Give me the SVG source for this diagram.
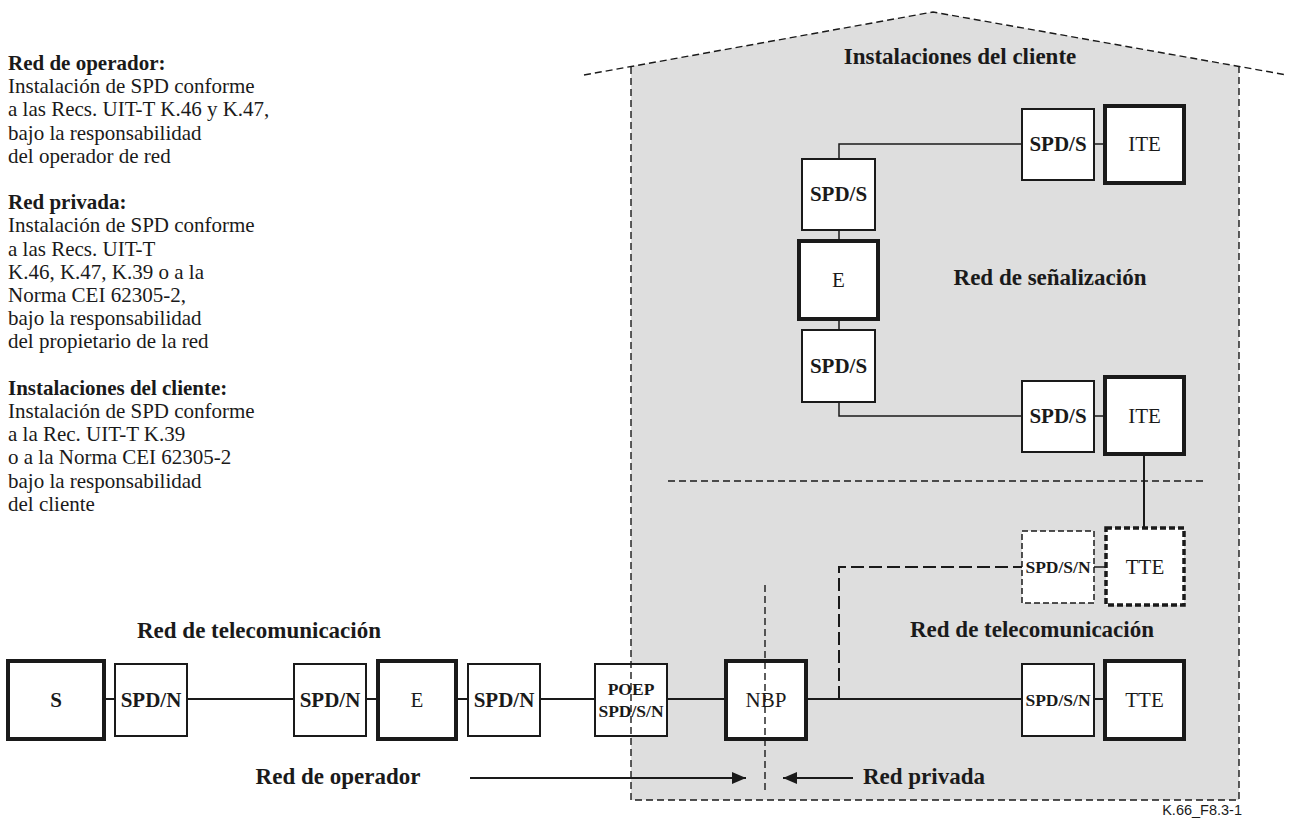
<svg xmlns="http://www.w3.org/2000/svg" width="1289" height="825" viewBox="0 0 1289 825">
  <style>
    text { font-family: "Liberation Serif", "Times New Roman", serif; fill: #1a1a1a; }
    .note { font-size: 21px; }
    .noteb { font-size: 21px; font-weight: bold; }
    .title { font-size: 23px; font-weight: bold; text-anchor: middle; }
    .lbl { font-size: 21px; text-anchor: middle; }
    .lblb { font-size: 21px; font-weight: bold; text-anchor: middle; }
    .lbls { font-size: 17.5px; font-weight: bold; text-anchor: middle; }
    .box { fill: #fff; stroke: #1a1a1a; stroke-width: 2; }
    .thick { fill: #fff; stroke: #1a1a1a; stroke-width: 4; }
    .dbox { fill: #fff; stroke: #1a1a1a; stroke-width: 1.5; stroke-dasharray: 6 3; }
    .dthick { fill: #fff; stroke: #1a1a1a; stroke-width: 3.5; stroke-dasharray: 6 3; }
    .wire { fill: none; stroke: #1a1a1a; stroke-width: 2; }
    .wthin { fill: none; stroke: #1a1a1a; stroke-width: 1.5; }
    .wdash { fill: none; stroke: #1a1a1a; stroke-width: 2; stroke-dasharray: 13 5; }
    .outline { fill: none; stroke: #1a1a1a; stroke-width: 1.4; stroke-dasharray: 7 4; }
  </style>
  <defs>
    <marker id="arrow" viewBox="0 0 14 12" refX="14" refY="6" markerWidth="14" markerHeight="12" markerUnits="userSpaceOnUse" orient="auto">
      <path d="M0,0 L14,6 L0,12 Z" fill="#1a1a1a"/>
    </marker>
  </defs>

  <rect width="1289" height="825" fill="#fff"/>

  <!-- customer premises area -->
  <polygon id="premises-fill" points="631,66.5 933,12 1239,66.5 1239,800 631,800" fill="#dedede"/>

  <!-- legend text -->
  <g id="legend">
    <text class="noteb" x="8" y="70">Red de operador:</text>
    <text class="note" x="8" y="93">Instalación de SPD conforme</text>
    <text class="note" x="8" y="116">a las Recs. UIT-T K.46 y K.47,</text>
    <text class="note" x="8" y="140">bajo la responsabilidad</text>
    <text class="note" x="8" y="163">del operador de red</text>
    <text class="noteb" x="8" y="209">Red privada:</text>
    <text class="note" x="8" y="232">Instalación de SPD conforme</text>
    <text class="note" x="8" y="256">a las Recs. UIT-T</text>
    <text class="note" x="8" y="279">K.46, K.47, K.39 o a la</text>
    <text class="note" x="8" y="302">Norma CEI 62305-2,</text>
    <text class="note" x="8" y="325">bajo la responsabilidad</text>
    <text class="note" x="8" y="348">del propietario de la red</text>
    <text class="noteb" x="8" y="395">Instalaciones del cliente:</text>
    <text class="note" x="8" y="418">Instalación de SPD conforme</text>
    <text class="note" x="8" y="441">a la Rec. UIT-T K.39</text>
    <text class="note" x="8" y="464">o a la Norma CEI 62305-2</text>
    <text class="note" x="8" y="488">bajo la responsabilidad</text>
    <text class="note" x="8" y="511">del cliente</text>
  </g>

  <!-- section titles -->
  <g id="titles">
    <text class="title" x="960" y="64">Instalaciones del cliente</text>
    <text class="title" x="1050" y="285">Red de señalización</text>
    <text class="title" x="259" y="638">Red de telecomunicación</text>
    <text class="title" x="1032" y="637">Red de telecomunicación</text>
    <text class="title" x="338" y="784">Red de operador</text>
    <text class="title" x="924" y="784">Red privada</text>
  </g>

  <!-- connectors -->
  <g id="connectors">
    <!-- telecommunication line -->
    <line class="wire" x1="104" y1="699" x2="1105" y2="699"/>
    <!-- signalling network -->
    <polyline class="wthin" points="1022,144 839,144 839,159"/>
    <line class="wthin" x1="1094" y1="144" x2="1105" y2="144"/>
    <line class="wthin" x1="839" y1="230" x2="839" y2="241"/>
    <line class="wthin" x1="839" y1="319" x2="839" y2="330"/>
    <polyline class="wthin" points="839,402 839,416 1022,416"/>
    <line class="wthin" x1="1094" y1="416" x2="1105" y2="416"/>
    <line class="wire" x1="1144" y1="454" x2="1144" y2="528"/>
    <!-- optional private branch -->
    <polyline class="wdash" points="839,699 839,567 1022,567"/>
    <line class="wthin" x1="1094" y1="567" x2="1106" y2="567"/>
    <!-- boundary arrows -->
    <line class="wire" x1="470" y1="778" x2="746" y2="778" marker-end="url(#arrow)"/>
    <line class="wire" x1="853" y1="778" x2="783" y2="778" marker-end="url(#arrow)"/>
  </g>

  <!-- operator network nodes -->
  <g id="node-s">
    <rect class="thick" x="8" y="661" width="96" height="78"/>
    <text class="lblb" x="56" y="707">S</text>
  </g>
  <g id="node-spdn-1">
    <rect class="box" x="115" y="664" width="72" height="72"/>
    <text class="lblb" x="151" y="707">SPD/N</text>
  </g>
  <g id="node-spdn-2">
    <rect class="box" x="294" y="664" width="72" height="72"/>
    <text class="lblb" x="330" y="707">SPD/N</text>
  </g>
  <g id="node-e-exchange">
    <rect class="thick" x="378" y="661" width="78" height="78"/>
    <text class="lbl" x="417" y="707">E</text>
  </g>
  <g id="node-spdn-3">
    <rect class="box" x="468" y="664" width="72" height="72"/>
    <text class="lblb" x="504" y="707">SPD/N</text>
  </g>
  <g id="node-poep">
    <rect class="box" x="595" y="664" width="72" height="72"/>
    <text class="lbls" x="631" y="695">POEP</text>
    <text class="lbls" x="631" y="717">SPD/S/N</text>
  </g>
  <g id="node-nbp">
    <rect class="thick" x="726" y="661" width="80" height="78"/>
    <text class="lbl" x="766" y="707">NBP</text>
  </g>

  <!-- customer telecommunication nodes -->
  <g id="node-spdsn-bottom">
    <rect class="box" x="1022" y="664" width="72" height="72"/>
    <text class="lbls" x="1058" y="706">SPD/S/N</text>
  </g>
  <g id="node-tte-bottom">
    <rect class="thick" x="1105" y="661" width="79" height="78"/>
    <text class="lbl" x="1144.5" y="707">TTE</text>
  </g>
  <g id="node-spdsn-optional">
    <rect class="dbox" x="1022" y="531" width="72" height="72"/>
    <text class="lbls" x="1058" y="573">SPD/S/N</text>
  </g>
  <g id="node-tte-optional">
    <rect class="dthick" x="1106" y="528" width="78" height="77"/>
    <text class="lbl" x="1145" y="574">TTE</text>
  </g>

  <!-- signalling network nodes -->
  <g id="node-spds-top">
    <rect class="box" x="1022" y="109" width="72" height="71"/>
    <text class="lblb" x="1058" y="151">SPD/S</text>
  </g>
  <g id="node-ite-top">
    <rect class="thick" x="1105" y="106" width="79" height="77"/>
    <text class="lbl" x="1144.5" y="151">ITE</text>
  </g>
  <g id="node-spds-col-1">
    <rect class="box" x="802" y="159" width="73" height="71"/>
    <text class="lblb" x="838.5" y="201">SPD/S</text>
  </g>
  <g id="node-e-signal">
    <rect class="thick" x="799" y="241" width="79" height="78"/>
    <text class="lbl" x="838.5" y="287">E</text>
  </g>
  <g id="node-spds-col-2">
    <rect class="box" x="802" y="330" width="73" height="72"/>
    <text class="lblb" x="838.5" y="373">SPD/S</text>
  </g>
  <g id="node-spds-row-2">
    <rect class="box" x="1022" y="381" width="72" height="71"/>
    <text class="lblb" x="1058" y="423">SPD/S</text>
  </g>
  <g id="node-ite-row-2">
    <rect class="thick" x="1105" y="377" width="79" height="77"/>
    <text class="lbl" x="1144.5" y="423">ITE</text>
  </g>

  <!-- premises outline and boundaries -->
  <g id="boundaries">
    <polyline class="outline" points="584,75 933,12 1287,75"/>
    <polyline class="outline" points="631,67 631,800 1239,800 1239,67"/>
    <line class="outline" x1="668" y1="481" x2="1203" y2="481"/>
    <line class="outline" x1="765" y1="585" x2="765" y2="793" stroke-width="1.2"/>
  </g>

  <text x="1242" y="815" text-anchor="end" style="font-family: 'Liberation Sans', Arial, sans-serif; font-size: 14.5px;">K.66_F8.3-1</text>
</svg>
